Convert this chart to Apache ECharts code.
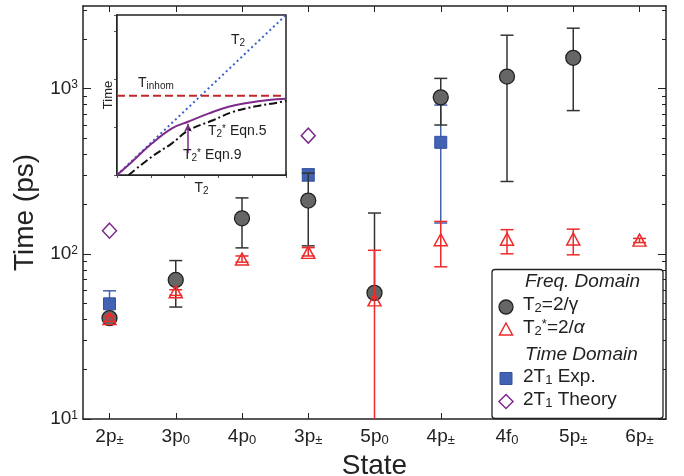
<!DOCTYPE html>
<html><head><meta charset="utf-8">
<script src="https://cdn.jsdelivr.net/npm/echarts@6/dist/echarts.min.js"></script>
<style>html,body{margin:0;padding:0;background:#fff}#c{width:684px;height:476px}</style>
</head><body><div id="c"></div>
<script>
// ---- categories ----
const stateBase = ['2p','3p','4p','3p','5p','4p','4f','5p','6p'];
const stateSub  = ['±','0','0','±','0','±','0','±','±'];
// ---- T2 = 2/gamma (grey circles) ----
const t2    = [40.8, 69.5, 164, 210, 58, 885, 1183, 1535, null];
const t2Lo  = [null, 47.6, 108.6, 111.7, null, 602, 274, 736, null];
const t2Hi  = [null, 91, 218, 308, 176.5, 1153, 2105, 2321, null];
// ---- T2* = 2/alpha (red triangles) ----
const t2s   = [40.5, 59, 93, 102, 52.6, 121.6, 122.6, 123, 121];
const t2sLo = [39, 56, 89, 97, 1, 83.4, 100, 98.6, 117];
const t2sHi = [42, 60.6, 97, 109, 105, 157, 140, 141, 124];
// ---- 2T1 Exp. (blue squares) ----
const t1Exp   = [49.8, null, null, 301, null, 473, null, null, null];
const t1ExpLo = [null, null, null, 276, null, 153.6, null, null, null];
const t1ExpHi = [59.7, null, null, 326, null, 795, null, null, null];
// ---- 2T1 Theory (purple diamonds) ----
const t1Theory = [138, null, null, 519, null, null, null, null, null];
// ---- y tick labels (exponents of 10) ----
const yTickExp = [1, 2, 3];
const yMinorTickVals = [20,30,40,50,60,70,80,90,200,300,400,500,600,700,800,900,2000,3000];
// ---- inset schematic curves (normalised units) ----
const insT2 = [[0,0],[1,1]];
const insInhom = [[0,0.496],[1,0.496]];
const insEq9X = [0, 0.089, 0.207, 0.325, 0.42, 0.544, 0.66, 0.779, 0.898, 1.0];
const insEq9Y = [0, 0.083, 0.198, 0.292, 0.333, 0.385, 0.427, 0.452, 0.469, 0.477];
const insEq5X = [0.069, 0.207, 0.325, 0.42, 0.572, 0.69, 0.83, 0.947, 1.0];
const insEq5Y = [0, 0.115, 0.198, 0.277, 0.344, 0.396, 0.431, 0.452, 0.464];
const insArrow = [[0.42, 0.136], [0.42, 0.32]];

const FONT = 'Liberation Sans, Arial, Helvetica, sans-serif';
const AX = '#222';
const RED = '#ee2a2a', BLUE = '#4262b4', PURPLE = '#7d2b8b', GREY = '#666666';

const chart = echarts.init(document.getElementById('c'), null, {renderer: 'canvas'});

function pts(vals) { return vals.map((v, i) => v == null ? null : [i + 1, v]).filter(Boolean); }

function errSeries(center, lo, hi, color, z) {
  const data = [];
  center.forEach((c, i) => {
    const l = lo[i], h = hi[i];
    if (l == null && h == null) return;
    data.push([i + 1, l == null ? c : l, h == null ? c : h, l == null ? 0 : 1, h == null ? 0 : 1]);
  });
  return {
    type: 'custom', xAxisIndex: 0, yAxisIndex: 0, clip: true, z: z, silent: true,
    data: data, encode: {x: 0, y: [1, 2]},
    renderItem: function (params, api) {
      const x = api.value(0);
      const p1 = api.coord([x, api.value(1)]);
      const p2 = api.coord([x, api.value(2)]);
      const hw = 6.5;
      const st = {stroke: color, lineWidth: 1.5};
      const ch = [{type: 'line', shape: {x1: p1[0], y1: p1[1], x2: p2[0], y2: p2[1]}, style: st}];
      if (api.value(3)) ch.push({type: 'line', shape: {x1: p1[0] - hw, y1: p1[1], x2: p1[0] + hw, y2: p1[1]}, style: st});
      if (api.value(4)) ch.push({type: 'line', shape: {x1: p2[0] - hw, y1: p2[1], x2: p2[0] + hw, y2: p2[1]}, style: st});
      return {type: 'group', children: ch};
    }
  };
}

const subRich = {
  sub: {fontSize: 13, fontFamily: FONT, color: AX, verticalAlign: 'bottom', padding: [7, 0, 0, 0]},
  sup: {fontSize: 12, fontFamily: FONT, color: AX, verticalAlign: 'top', padding: [0, 0, 6, 0]}
};

const xr = {min: 0.6, max: 9.4};
const ticks9 = [1,2,3,4,5,6,7,8,9];

const option = {
  backgroundColor: '#fff',
  animation: false,
  grid: [
    {left: 83, right: 18, top: 6, bottom: 57, containLabel: false, outerBoundsMode: 'none'},
    {left: 117, top: 15, width: 169, height: 160, show: true, backgroundColor: '#fff', borderColor: AX, borderWidth: 1.5, z: 5, outerBoundsMode: 'none'}
  ],
  xAxis: [
    {type: 'value', gridIndex: 0, min: xr.min, max: xr.max, position: 'bottom',
     name: 'State', nameLocation: 'middle', nameGap: 24,
     nameTextStyle: {fontSize: 28, fontFamily: FONT, color: AX},
     axisLine: {show: true, lineStyle: {color: AX, width: 1.5}},
     axisTick: {show: true, inside: true, length: 6, customValues: ticks9, lineStyle: {color: AX}},
     axisLabel: {show: true, margin: 8, fontSize: 19, fontFamily: FONT, color: AX, customValues: ticks9,
       formatter: v => { const i = Math.round(v) - 1; return stateBase[i] + '{sub|' + stateSub[i] + '}'; },
       rich: subRich},
     splitLine: {show: false}},
    {type: 'value', gridIndex: 0, min: xr.min, max: xr.max, position: 'top',
     axisLine: {show: true, lineStyle: {color: AX, width: 1.5}},
     axisTick: {show: true, inside: true, length: 6, customValues: ticks9, lineStyle: {color: AX}},
     axisLabel: {show: false}, splitLine: {show: false}},
    {type: 'value', gridIndex: 1, min: 0, max: 1, position: 'bottom',
     name: 'T{sub|2}', nameLocation: 'middle', nameGap: 6,
     nameTextStyle: {fontSize: 14, fontFamily: FONT, color: AX, rich: {sub: {fontSize: 10, fontFamily: FONT, color: AX, verticalAlign: 'bottom', padding: [5,0,0,0]}}},
     axisLine: {show: true, lineStyle: {color: AX, width: 1.5}},
     axisTick: {show: true, inside: true, length: 3, lineStyle: {color: '#555'}},
     axisLabel: {show: false}, splitLine: {show: false}, splitNumber: 5},
    {type: 'value', gridIndex: 1, min: 0, max: 1, position: 'top',
     axisLine: {show: true, lineStyle: {color: AX, width: 1.5}},
     axisTick: {show: true, inside: true, length: 3, lineStyle: {color: '#555'}},
     axisLabel: {show: false}, splitLine: {show: false}, splitNumber: 5}
  ],
  yAxis: [
    {type: 'log', logBase: 10, gridIndex: 0, min: 10, max: 3162.28, show: false, splitLine: {show: false}},
    {type: 'value', gridIndex: 0, min: 1, max: 3.5, position: 'left',
     name: 'Time (ps)', nameLocation: 'middle', nameGap: 42, nameRotate: 90,
     nameTextStyle: {fontSize: 28, fontFamily: FONT, color: AX},
     axisLine: {show: true, lineStyle: {color: AX, width: 1.5}},
     axisTick: {show: true, inside: true, length: 8, customValues: yTickExp, lineStyle: {color: AX}},
     axisLabel: {show: true, margin: 5, fontSize: 19, fontFamily: FONT, color: AX, customValues: yTickExp,
       formatter: v => '10{sup|' + Math.round(v) + '}', rich: subRich},
     splitLine: {show: false}},
    {type: 'value', gridIndex: 0, min: 1, max: 3.5, position: 'left',
     axisLine: {show: false},
     axisTick: {show: true, inside: true, length: 4, customValues: yMinorTickVals.map(v => Math.log10(v)), lineStyle: {color: AX}},
     axisLabel: {show: false}, splitLine: {show: false}},
    {type: 'value', gridIndex: 0, min: 1, max: 3.5, position: 'right',
     axisLine: {show: true, lineStyle: {color: AX, width: 1.5}},
     axisTick: {show: true, inside: true, length: 8, customValues: yTickExp, lineStyle: {color: AX}},
     axisLabel: {show: false}, splitLine: {show: false}},
    {type: 'value', gridIndex: 0, min: 1, max: 3.5, position: 'right',
     axisLine: {show: false},
     axisTick: {show: true, inside: true, length: 4, customValues: yMinorTickVals.map(v => Math.log10(v)), lineStyle: {color: AX}},
     axisLabel: {show: false}, splitLine: {show: false}},
    {type: 'value', gridIndex: 1, min: 0, max: 1, position: 'left',
     name: 'Time', nameLocation: 'middle', nameGap: 2, nameRotate: 90,
     nameTextStyle: {fontSize: 13, fontFamily: FONT, color: AX},
     axisLine: {show: true, lineStyle: {color: AX, width: 1.5}},
     axisTick: {show: true, inside: true, length: 3, lineStyle: {color: '#555'}},
     axisLabel: {show: false}, splitLine: {show: false}, splitNumber: 4},
    {type: 'value', gridIndex: 1, min: 0, max: 1, position: 'right',
     axisLine: {show: true, lineStyle: {color: AX, width: 1.5}},
     axisTick: {show: true, inside: true, length: 3, lineStyle: {color: '#555'}},
     axisLabel: {show: false}, splitLine: {show: false}, splitNumber: 4}
  ],
  series: [
    errSeries(t1Exp, t1ExpLo, t1ExpHi, BLUE, 2),
    {name: '2T1 Exp.', type: 'scatter', xAxisIndex: 0, yAxisIndex: 0, z: 3, data: pts(t1Exp),
     symbol: 'rect', symbolSize: 12, itemStyle: {color: BLUE, borderColor: '#3452a0', borderWidth: 1, opacity: 1}},
    errSeries(t2, t2Lo, t2Hi, '#333', 4),
    {name: 'T2=2/γ', type: 'scatter', xAxisIndex: 0, yAxisIndex: 0, z: 5, data: pts(t2),
     symbol: 'circle', symbolSize: 15, itemStyle: {color: GREY, borderColor: '#222', borderWidth: 1.3, opacity: 1}},
    errSeries(t2s, t2sLo, t2sHi, RED, 6),
    {name: 'T2*=2/α', type: 'scatter', xAxisIndex: 0, yAxisIndex: 0, z: 7, data: pts(t2s),
     symbol: 'triangle', symbolSize: [13, 12], itemStyle: {color: 'rgba(255,255,255,0)', borderColor: RED, borderWidth: 1.5, opacity: 1}},
    {name: '2T1 Theory', type: 'scatter', xAxisIndex: 0, yAxisIndex: 0, z: 8, data: pts(t1Theory),
     symbol: 'diamond', symbolSize: [14, 15], itemStyle: {color: 'rgba(255,255,255,0)', borderColor: PURPLE, borderWidth: 1.5, opacity: 1}},
    // inset
    {type: 'line', xAxisIndex: 2, yAxisIndex: 5, z: 10, data: insT2, symbol: 'none', silent: true,
     lineStyle: {color: '#3a5fcd', width: 2, type: [2, 3]}},
    {type: 'line', xAxisIndex: 2, yAxisIndex: 5, z: 10, data: insInhom, symbol: 'none', silent: true,
     lineStyle: {color: '#c0282c', width: 2, type: [8, 4]}},
    {type: 'line', xAxisIndex: 2, yAxisIndex: 5, z: 10, data: insEq5X.map((x, i) => [x, insEq5Y[i]]), symbol: 'none', smooth: 0.4, silent: true,
     lineStyle: {color: '#111', width: 2, type: [8, 3, 2, 3]}},
    {type: 'line', xAxisIndex: 2, yAxisIndex: 5, z: 11, data: insEq9X.map((x, i) => [x, insEq9Y[i]]), symbol: 'none', smooth: 0.4, silent: true,
     lineStyle: {color: PURPLE, width: 2},
     markLine: {silent: true, symbol: ['none', 'arrow'], symbolSize: [6, 8], label: {show: false},
       lineStyle: {color: PURPLE, width: 1.5, type: 'solid'},
       data: [[{coord: insArrow[0]}, {coord: insArrow[1]}]]}}
  ],
  graphic: [
    // inset labels
    {type: 'text', z: 100, x: 231, y: 33, style: {text: 'T{s|2}', font: '14px ' + FONT, fill: AX,
      rich: {s: {fontSize: 10, fontFamily: FONT, fill: AX, verticalAlign: 'bottom', padding: [5,0,0,0]}}}},
    {type: 'text', z: 100, x: 138, y: 76, style: {text: 'T{s|inhom}', font: '14px ' + FONT, fill: AX,
      rich: {s: {fontSize: 10, fontFamily: FONT, fill: AX, verticalAlign: 'bottom', padding: [5,0,0,0]}}}},
    {type: 'text', z: 100, x: 208, y: 124, style: {text: 'T{s|2}{p|*} Eqn.5', font: '14px ' + FONT, fill: AX,
      rich: {s: {fontSize: 10, fontFamily: FONT, fill: AX, verticalAlign: 'bottom', padding: [5,0,0,0]},
             p: {fontSize: 10, fontFamily: FONT, fill: AX, verticalAlign: 'top'}}}},
    {type: 'text', z: 100, x: 183, y: 148, style: {text: 'T{s|2}{p|*} Eqn.9', font: '14px ' + FONT, fill: AX,
      rich: {s: {fontSize: 10, fontFamily: FONT, fill: AX, verticalAlign: 'bottom', padding: [5,0,0,0]},
             p: {fontSize: 10, fontFamily: FONT, fill: AX, verticalAlign: 'top'}}}},
    // legend
    {type: 'rect', z: 100, shape: {x: 492, y: 269.5, width: 171, height: 149, r: 3},
     style: {fill: '#fff', stroke: AX, lineWidth: 1.3}},
    {type: 'text', z: 101, x: 525, y: 272, style: {text: 'Freq. Domain', font: 'italic 19px ' + FONT, fill: AX}},
    {type: 'circle', z: 101, shape: {cx: 506, cy: 307, r: 7}, style: {fill: GREY, stroke: '#222', lineWidth: 1.3}},
    {type: 'text', z: 101, x: 523, y: 295, style: {text: 'T{s|2}=2/γ', font: '19px ' + FONT, fill: AX,
      rich: {s: {fontSize: 13, fontFamily: FONT, fill: AX, verticalAlign: 'bottom', padding: [7,0,0,0]}}}},
    {type: 'polygon', z: 101, shape: {points: [[506, 323], [512.5, 335], [499.5, 335]]}, style: {fill: 'none', stroke: RED, lineWidth: 1.5}},
    {type: 'text', z: 101, x: 523, y: 318, style: {text: 'T{s|2}{p|*}=2/{i|α}', font: '19px ' + FONT, fill: AX,
      rich: {s: {fontSize: 13, fontFamily: FONT, fill: AX, verticalAlign: 'bottom', padding: [7,0,0,0]},
             p: {fontSize: 13, fontFamily: FONT, fill: AX, verticalAlign: 'top'},
             i: {fontSize: 19, fontFamily: FONT, fontStyle: 'italic', fill: AX}}}},
    {type: 'text', z: 101, x: 525, y: 345, style: {text: 'Time Domain', font: 'italic 19px ' + FONT, fill: AX}},
    {type: 'rect', z: 101, shape: {x: 500, y: 372.5, width: 12, height: 12}, style: {fill: BLUE, stroke: '#3452a0', lineWidth: 1}},
    {type: 'text', z: 101, x: 523, y: 367, style: {text: '2T{s|1} Exp.', font: '19px ' + FONT, fill: AX,
      rich: {s: {fontSize: 13, fontFamily: FONT, fill: AX, verticalAlign: 'bottom', padding: [7,0,0,0]}}}},
    {type: 'polygon', z: 101, shape: {points: [[506, 394.5], [513, 401.5], [506, 408.5], [499, 401.5]]}, style: {fill: 'none', stroke: PURPLE, lineWidth: 1.5}},
    {type: 'text', z: 101, x: 523, y: 390, style: {text: '2T{s|1} Theory', font: '19px ' + FONT, fill: AX,
      rich: {s: {fontSize: 13, fontFamily: FONT, fill: AX, verticalAlign: 'bottom', padding: [7,0,0,0]}}}}
  ]
};
chart.setOption(option);
</script>
</body></html>
